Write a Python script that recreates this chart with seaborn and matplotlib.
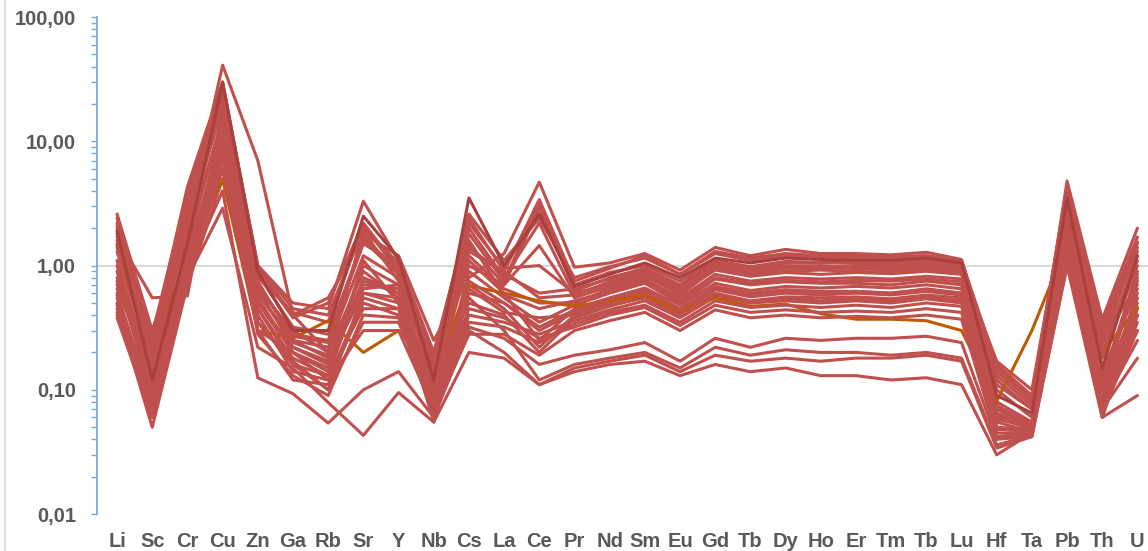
import pandas as pd
import matplotlib
matplotlib.use("Agg")
import matplotlib.pyplot as plt
import matplotlib.ticker as mticker
from matplotlib.lines import Line2D
import seaborn as sns

elementos = ["Li", "Sc", "Cr", "Cu", "Zn", "Ga", "Rb", "Sr", "Y", "Nb", "Cs", "La", "Ce", "Pr", "Nd",
             "Sm", "Eu", "Gd", "Tb", "Dy", "Ho", "Er", "Tm", "Tb", "Lu", "Hf", "Ta", "Pb", "Th", "U"]

# valores normalizados (orden de elementos de arriba)
m01 = [2.6, 0.3, 2.2, 41, 7.0, 0.4, 0.2, 1.8, 1.2, 0.25, 0.8, 1.25, 4.7, 0.97, 1.05, 1.25, 0.92, 1.4, 1.2, 1.35, 1.25, 1.25, 1.22, 1.28, 1.12, 0.12, 0.07, 4.8, 0.37, 2.0]
m02 = [2.2, 0.25, 3.5, 28, 1.0, 0.5, 0.45, 3.3, 1.1, 0.2, 2.4, 0.9, 3.4, 0.75, 0.95, 1.2, 0.85, 1.3, 1.15, 1.25, 1.2, 1.2, 1.18, 1.2, 1.08, 0.16, 0.09, 4.2, 0.3, 1.55]
m03 = [1.9, 0.12, 1.5, 30, 0.9, 0.3, 0.3, 2.5, 1.15, 0.12, 3.5, 1.0, 2.6, 0.68, 0.85, 1.05, 0.8, 1.15, 1.05, 1.15, 1.12, 1.1, 1.1, 1.15, 1.05, 0.09, 0.065, 3.5, 0.15, 1.2]
m04 = [1.6, 0.2, 2.8, 22, 0.8, 0.42, 0.35, 2.1, 0.9, 0.15, 1.8, 0.75, 3.2, 0.62, 0.8, 0.95, 0.7, 1.08, 0.95, 1.05, 1.05, 1.05, 1.0, 1.05, 0.98, 0.1, 0.06, 3.0, 0.22, 1.1]
m05 = [1.7, 0.55, 0.57, 18, 0.7, 0.28, 0.25, 1.5, 1.0, 0.1, 2.0, 0.8, 2.2, 0.58, 0.72, 0.88, 0.62, 1.0, 0.88, 0.95, 0.95, 0.95, 0.92, 0.95, 0.9, 0.07, 0.05, 2.6, 0.12, 0.9]
m06 = [0.9, 0.09, 1.2, 12, 0.6, 0.25, 0.18, 1.9, 0.75, 0.09, 1.5, 0.7, 1.45, 0.55, 0.68, 0.82, 0.6, 0.92, 0.82, 0.88, 0.85, 0.88, 0.86, 0.9, 0.85, 0.06, 0.048, 2.2, 0.1, 0.8]
m07 = [0.7, 0.15, 2.0, 25, 0.55, 0.2, 0.15, 1.0, 0.7, 0.14, 1.2, 0.65, 0.5, 0.5, 0.65, 0.78, 0.55, 0.85, 0.75, 0.8, 0.78, 0.8, 0.78, 0.82, 0.78, 0.08, 0.055, 1.8, 0.25, 0.7]
m08 = [0.55, 0.07, 0.9, 8, 0.45, 0.18, 0.13, 0.8, 0.6, 0.07, 0.9, 0.55, 0.35, 0.48, 0.6, 0.72, 0.5, 0.78, 0.7, 0.74, 0.72, 0.72, 0.7, 0.75, 0.7, 0.05, 0.045, 1.5, 0.08, 0.5]
m09 = [2.0, 0.25, 4.3, 30, 0.95, 0.38, 0.5, 2.2, 0.95, 0.2, 1.4, 0.85, 0.6, 0.65, 0.78, 0.9, 0.65, 1.0, 0.9, 0.98, 1.0, 0.95, 0.95, 0.98, 0.92, 0.14, 0.08, 4.0, 0.28, 1.3]
m10 = [0.45, 0.05, 0.7, 5, 0.35, 0.16, 0.1, 0.6, 0.5, 0.055, 0.6, 0.5, 0.3, 0.42, 0.52, 0.62, 0.45, 0.68, 0.6, 0.64, 0.62, 0.62, 0.6, 0.65, 0.6, 0.04, 0.042, 1.2, 0.06, 0.4]
m11 = [1.4, 0.18, 1.8, 15, 0.65, 0.3, 0.2, 0.9, 0.55, 0.11, 1.1, 0.6, 0.25, 0.45, 0.55, 0.66, 0.48, 0.72, 0.63, 0.68, 0.66, 0.68, 0.66, 0.7, 0.65, 0.065, 0.05, 2.0, 0.18, 1.0]
m12 = [0.8, 0.1, 1.3, 10, 0.5, 0.22, 0.16, 0.7, 0.65, 0.08, 0.7, 0.45, 0.22, 0.4, 0.5, 0.6, 0.42, 0.64, 0.56, 0.6, 0.58, 0.6, 0.58, 0.62, 0.58, 0.055, 0.046, 1.6, 0.09, 0.6]
m13 = [1.1, 0.13, 2.4, 20, 0.75, 0.25, 0.22, 1.2, 0.8, 0.13, 0.5, 0.4, 0.2, 0.38, 0.47, 0.56, 0.4, 0.6, 0.52, 0.56, 0.55, 0.56, 0.54, 0.58, 0.55, 0.075, 0.052, 2.4, 0.13, 0.75]
m14 = [0.6, 0.08, 1.0, 7, 0.4, 0.14, 0.12, 0.55, 0.45, 0.065, 0.4, 0.35, 0.28, 0.36, 0.44, 0.52, 0.38, 0.56, 0.5, 0.52, 0.5, 0.52, 0.5, 0.54, 0.5, 0.045, 0.044, 1.3, 0.07, 0.45]
m15 = [1.8, 0.22, 3.0, 26, 0.85, 0.32, 0.28, 1.6, 0.85, 0.16, 2.2, 0.95, 1.0, 0.6, 0.7, 0.85, 0.58, 0.95, 0.85, 0.9, 0.92, 0.9, 0.88, 0.92, 0.88, 0.11, 0.07, 3.2, 0.2, 1.2]
m16 = [0.5, 0.06, 0.8, 6, 0.3, 0.12, 0.11, 0.5, 0.4, 0.06, 0.35, 0.32, 0.24, 0.34, 0.42, 0.48, 0.35, 0.52, 0.46, 0.48, 0.46, 0.48, 0.46, 0.5, 0.47, 0.05, 0.048, 1.1, 0.065, 0.35]
m17 = [2.4, 0.28, 3.8, 29, 1.0, 0.45, 0.4, 2.0, 1.05, 0.18, 2.6, 1.1, 2.4, 0.8, 0.98, 1.15, 0.85, 1.25, 1.1, 1.2, 1.18, 1.15, 1.15, 1.2, 1.1, 0.15, 0.085, 4.4, 0.33, 1.7]
m18 = [0.4, 0.07, 0.9, 4, 0.125, 0.093, 0.054, 0.1, 0.14, 0.06, 0.3, 0.2, 0.11, 0.14, 0.16, 0.17, 0.13, 0.16, 0.14, 0.15, 0.13, 0.13, 0.12, 0.125, 0.11, 0.03, 0.045, 1.0, 0.06, 0.09]
m19 = [0.38, 0.06, 0.8, 2.9, 0.22, 0.15, 0.079, 0.043, 0.095, 0.055, 0.2, 0.18, 0.11, 0.15, 0.17, 0.19, 0.14, 0.19, 0.17, 0.18, 0.17, 0.18, 0.18, 0.19, 0.17, 0.034, 0.042, 1.0, 0.07, 0.18]
m20 = [0.42, 0.08, 1.0, 6, 0.3, 0.2, 0.12, 0.3, 0.3, 0.07, 0.32, 0.26, 0.16, 0.19, 0.21, 0.24, 0.17, 0.26, 0.22, 0.26, 0.25, 0.26, 0.26, 0.27, 0.24, 0.04, 0.05, 1.3, 0.09, 0.3]
m21 = [0.48, 0.1, 1.1, 8, 0.35, 0.17, 0.1, 0.35, 0.35, 0.08, 0.55, 0.3, 0.12, 0.16, 0.18, 0.2, 0.15, 0.22, 0.19, 0.21, 0.2, 0.2, 0.19, 0.2, 0.18, 0.036, 0.043, 1.1, 0.075, 0.25]
m22 = [1.0, 0.11, 1.6, 14, 0.6, 0.24, 0.19, 0.75, 0.6, 0.1, 1.6, 0.58, 0.45, 0.52, 0.62, 0.75, 0.52, 0.8, 0.72, 0.76, 0.74, 0.76, 0.75, 0.78, 0.74, 0.07, 0.055, 2.8, 0.11, 0.85]
m23 = [0.65, 0.14, 1.4, 16, 0.5, 0.2, 0.14, 1.1, 0.5, 0.09, 0.75, 0.5, 0.32, 0.44, 0.54, 0.64, 0.44, 0.66, 0.58, 0.63, 0.6, 0.62, 0.6, 0.64, 0.6, 0.058, 0.05, 1.7, 0.1, 0.55]
m24 = [1.5, 0.17, 2.6, 24, 0.7, 0.27, 0.24, 0.65, 0.7, 0.17, 1.0, 0.7, 2.9, 0.7, 0.88, 1.0, 0.75, 1.1, 0.98, 1.08, 1.06, 1.08, 1.05, 1.1, 1.02, 0.13, 0.075, 3.6, 0.24, 1.4]
m25 = [0.75, 0.095, 1.2, 9, 0.45, 0.16, 0.13, 0.45, 0.45, 0.075, 0.45, 0.38, 0.26, 0.32, 0.4, 0.46, 0.33, 0.48, 0.42, 0.44, 0.42, 0.43, 0.42, 0.45, 0.42, 0.048, 0.046, 1.4, 0.08, 0.4]
m26 = [1.3, 0.16, 2.1, 19, 0.65, 0.22, 0.17, 0.6, 0.55, 0.12, 0.65, 0.42, 0.38, 0.4, 0.48, 0.55, 0.4, 0.58, 0.5, 0.54, 0.52, 0.54, 0.52, 0.56, 0.52, 0.062, 0.05, 2.1, 0.14, 0.65]
m27 = [2.1, 0.2, 3.2, 27, 0.95, 0.4, 0.55, 1.7, 0.9, 0.14, 1.3, 0.9, 0.55, 0.58, 0.74, 0.92, 0.68, 1.05, 0.92, 1.0, 0.98, 1.0, 0.98, 1.02, 0.95, 0.17, 0.1, 3.8, 0.26, 1.5]
m28 = [0.58, 0.085, 0.95, 11, 0.28, 0.13, 0.09, 0.4, 0.38, 0.065, 0.28, 0.28, 0.19, 0.3, 0.36, 0.42, 0.3, 0.44, 0.38, 0.4, 0.38, 0.39, 0.38, 0.4, 0.37, 0.042, 0.044, 1.15, 0.065, 0.3]
promedio = [1.45, 0.18, 1.3, 5.0, 0.3, 0.26, 0.36, 0.2, 0.3, 0.14, 0.69, 0.6, 0.52, 0.47, 0.52, 0.57, 0.43, 0.55, 0.47, 0.49, 0.41, 0.37, 0.37, 0.36, 0.3, 0.081, 0.3, 1.5, 0.2, 0.46]

muestras = {
    "m01": m01, "m02": m02, "m04": m04, "m05": m05, "m06": m06, "m07": m07, "m08": m08,
    "m09": m09, "m10": m10, "m11": m11, "m12": m12, "m13": m13, "m14": m14,
    "promedio": promedio,
    "m15": m15, "m16": m16, "m17": m17, "m18": m18, "m19": m19, "m20": m20, "m21": m21,
    "m22": m22, "m23": m23, "m24": m24, "m25": m25, "m26": m26, "m27": m27, "m28": m28,
    "m03": m03,
}

filas = []
for nombre, valores in muestras.items():
    for i, v in enumerate(valores):
        filas.append({"muestra": nombre, "pos": i, "valor": v})
df = pd.DataFrame(filas)

rojo = "#C0504D"
colores = {n: rojo for n in muestras}
colores["promedio"] = "#C05A00"
colores["m03"] = "#A8403D"

sns.set_theme(style="white")
plt.rcParams["font.family"] = ["Liberation Sans", "DejaVu Sans"]

fig = plt.figure(figsize=(11.48, 5.51), dpi=100)
ax = fig.add_axes([0.0845, 0.067, 0.9155, 0.902])

ax.axhline(1.0, color="#D9D9D9", lw=1.5, zorder=0)
sns.lineplot(data=df, x="pos", y="valor", hue="muestra", hue_order=list(muestras),
             palette=colores, estimator=None, sort=False, legend=False,
             linewidth=2.2, ax=ax)

ax.set_yscale("log")
ax.set_ylim(0.01, 100)
ax.set_xlim(-0.57, 29.3)
ax.set_xlabel("")
ax.set_ylabel("")

ax.yaxis.set_major_locator(mticker.FixedLocator([0.01, 0.1, 1, 10, 100]))
ax.yaxis.set_major_formatter(mticker.FixedFormatter(["0,01", "0,10", "1,00", "10,00", "100,00"]))
ax.yaxis.set_minor_locator(mticker.LogLocator(base=10, subs=range(2, 10)))
ax.yaxis.set_minor_formatter(mticker.NullFormatter())
ax.tick_params(axis="y", which="both", direction="out", left=True, length=4, width=1,
               color="#7FA7DB", pad=11, labelsize=14.5, labelcolor="#595959")

ax.set_xticks(range(len(elementos)))
ax.set_xticklabels(elementos)
ax.tick_params(axis="x", length=0, pad=13, labelsize=14.5, labelcolor="#595959")
for t in ax.get_xticklabels() + ax.get_yticklabels():
    t.set_fontweight("bold")

for s in ["top", "right", "bottom"]:
    ax.spines[s].set_visible(False)
ax.spines["left"].set_color("#7FA7DB")
ax.spines["left"].set_linewidth(1.3)
ax.grid(False)

fig.add_artist(Line2D([5 / 1148, 5 / 1148], [0, 1], color="#D9D9D9", lw=1.2))

fig.savefig("out.png", dpi=100)
